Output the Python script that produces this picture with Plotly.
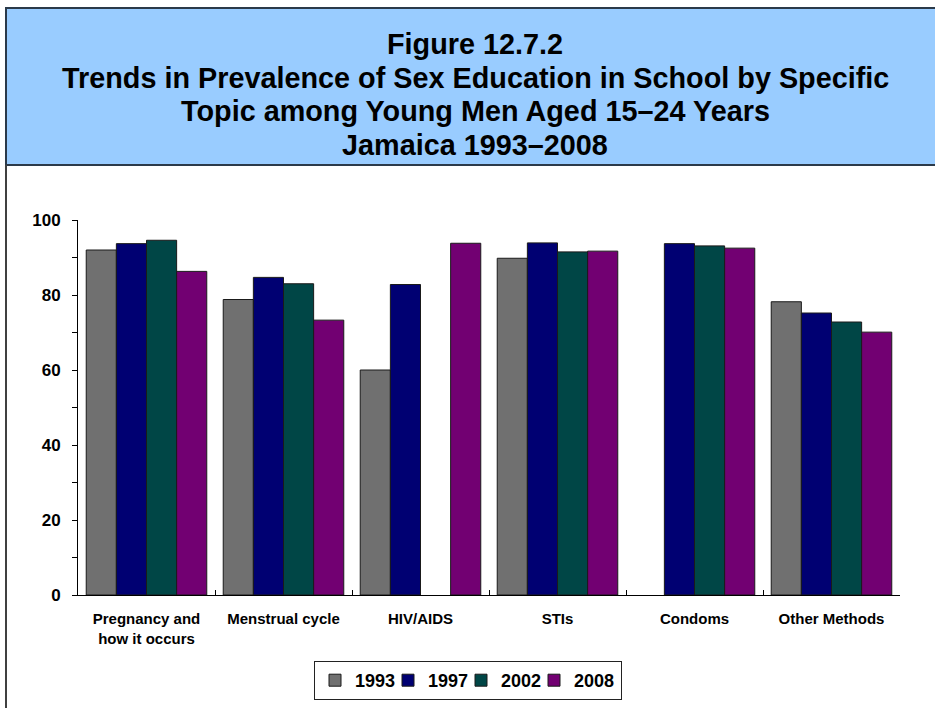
import plotly.graph_objects as go

# Topics and survey years
topics = ["Pregnancy and<br>how it occurs", "Menstrual cycle", "HIV/AIDS", "STIs", "Condoms", "Other Methods"]
years = ["1993", "1997", "2002", "2008"]

# Percent of young men reporting each topic was covered in school
pct_1993 = [92.0, 78.8, 60.0, 89.8, None, 78.2]
pct_1997 = [93.7, 84.7, 82.8, 93.9, 93.7, 75.2]
pct_2002 = [94.6, 83.0, None, 91.5, 93.1, 72.8]
pct_2008 = [86.3, 73.3, 93.8, 91.7, 92.5, 70.1]

series = [pct_1993, pct_1997, pct_2002, pct_2008]
colors = ["#707070", "#000072", "#004646", "#720072"]

title_lines = [
    "Figure 12.7.2",
    "Trends in Prevalence of Sex Education in School by Specific",
    "Topic among Young Men Aged 15\u201324 Years",
    "Jamaica 1993\u20132008",
]

W, H = 935, 708
ML, MR, MT, MB = 78, 35, 220, 113
PW = W - ML - MR
PH = H - MT - MB


def px_x(x):
    return (x - ML) / PW


def px_y(y):
    return (H - MB - y) / PH


FONT = "Liberation Sans, Arial, sans-serif"

fig = go.Figure()
for i, (yr, vals, col) in enumerate(zip(years, series, colors)):
    last = i == len(years) - 1
    fig.add_trace(go.Bar(
        x=topics, y=vals, name=yr,
        marker=dict(color=col, line=dict(color="#1a1a1a", width=1)),
        # compact legend entries; the final one keeps room for its full label
        legendwidth=42 if last else 28,
    ))

# Header band and frame
shapes = [
    dict(type="rect", xref="paper", yref="paper",
         x0=px_x(6), x1=px_x(945), y0=px_y(165), y1=px_y(8),
         fillcolor="#99CCFF", line=dict(color="#2b3a4a", width=2), layer="below"),
    dict(type="line", xref="paper", yref="paper",
         x0=px_x(6), x1=px_x(6), y0=px_y(165), y1=px_y(720),
         line=dict(color="#404040", width=2)),
]

title_y = [44, 78, 111, 145]
annotations = [
    dict(text=t, xref="paper", yref="paper", x=px_x(475), y=px_y(yy),
         xanchor="center", yanchor="middle", showarrow=False,
         font=dict(family=FONT, size=28.8, color="black", weight="bold"))
    for t, yy in zip(title_lines, title_y)
]

fig.update_layout(
    width=W, height=H,
    margin=dict(l=ML, r=MR, t=MT, b=MB, pad=0, autoexpand=False),
    paper_bgcolor="white", plot_bgcolor="white",
    barmode="group", bargap=0.12, bargroupgap=0,
    shapes=shapes, annotations=annotations,
    font=dict(family=FONT, color="black"),
    showlegend=True,
    legend=dict(
        orientation="h", x=px_x(468), y=px_y(661), xanchor="center", yanchor="top",
        bordercolor="#222222", borderwidth=1, bgcolor="white",
        font=dict(family=FONT, size=18, color="black", weight="bold"),
        itemwidth=30, traceorder="normal",
    ),
)

fig.update_yaxes(
    range=[0, 100], tickvals=[0, 20, 40, 60, 80, 100],
    ticks="outside", ticklen=5, tickcolor="black",
    showline=True, linecolor="black", linewidth=1,
    showgrid=False, zeroline=False,
    minor=dict(dtick=10, ticks="outside", ticklen=5, tickcolor="black", showgrid=False),
    tickfont=dict(family=FONT, size=17, color="black", weight="bold"),
    ticklabelstandoff=8,
)
fig.update_xaxes(
    showline=True, linecolor="black", linewidth=1,
    ticks="inside", tickson="boundaries", ticklen=5, tickcolor="black",
    showgrid=False,
    tickfont=dict(family=FONT, size=15, color="black", weight="bold"),
    ticklabelstandoff=10,
)

fig.write_html("out.html")
